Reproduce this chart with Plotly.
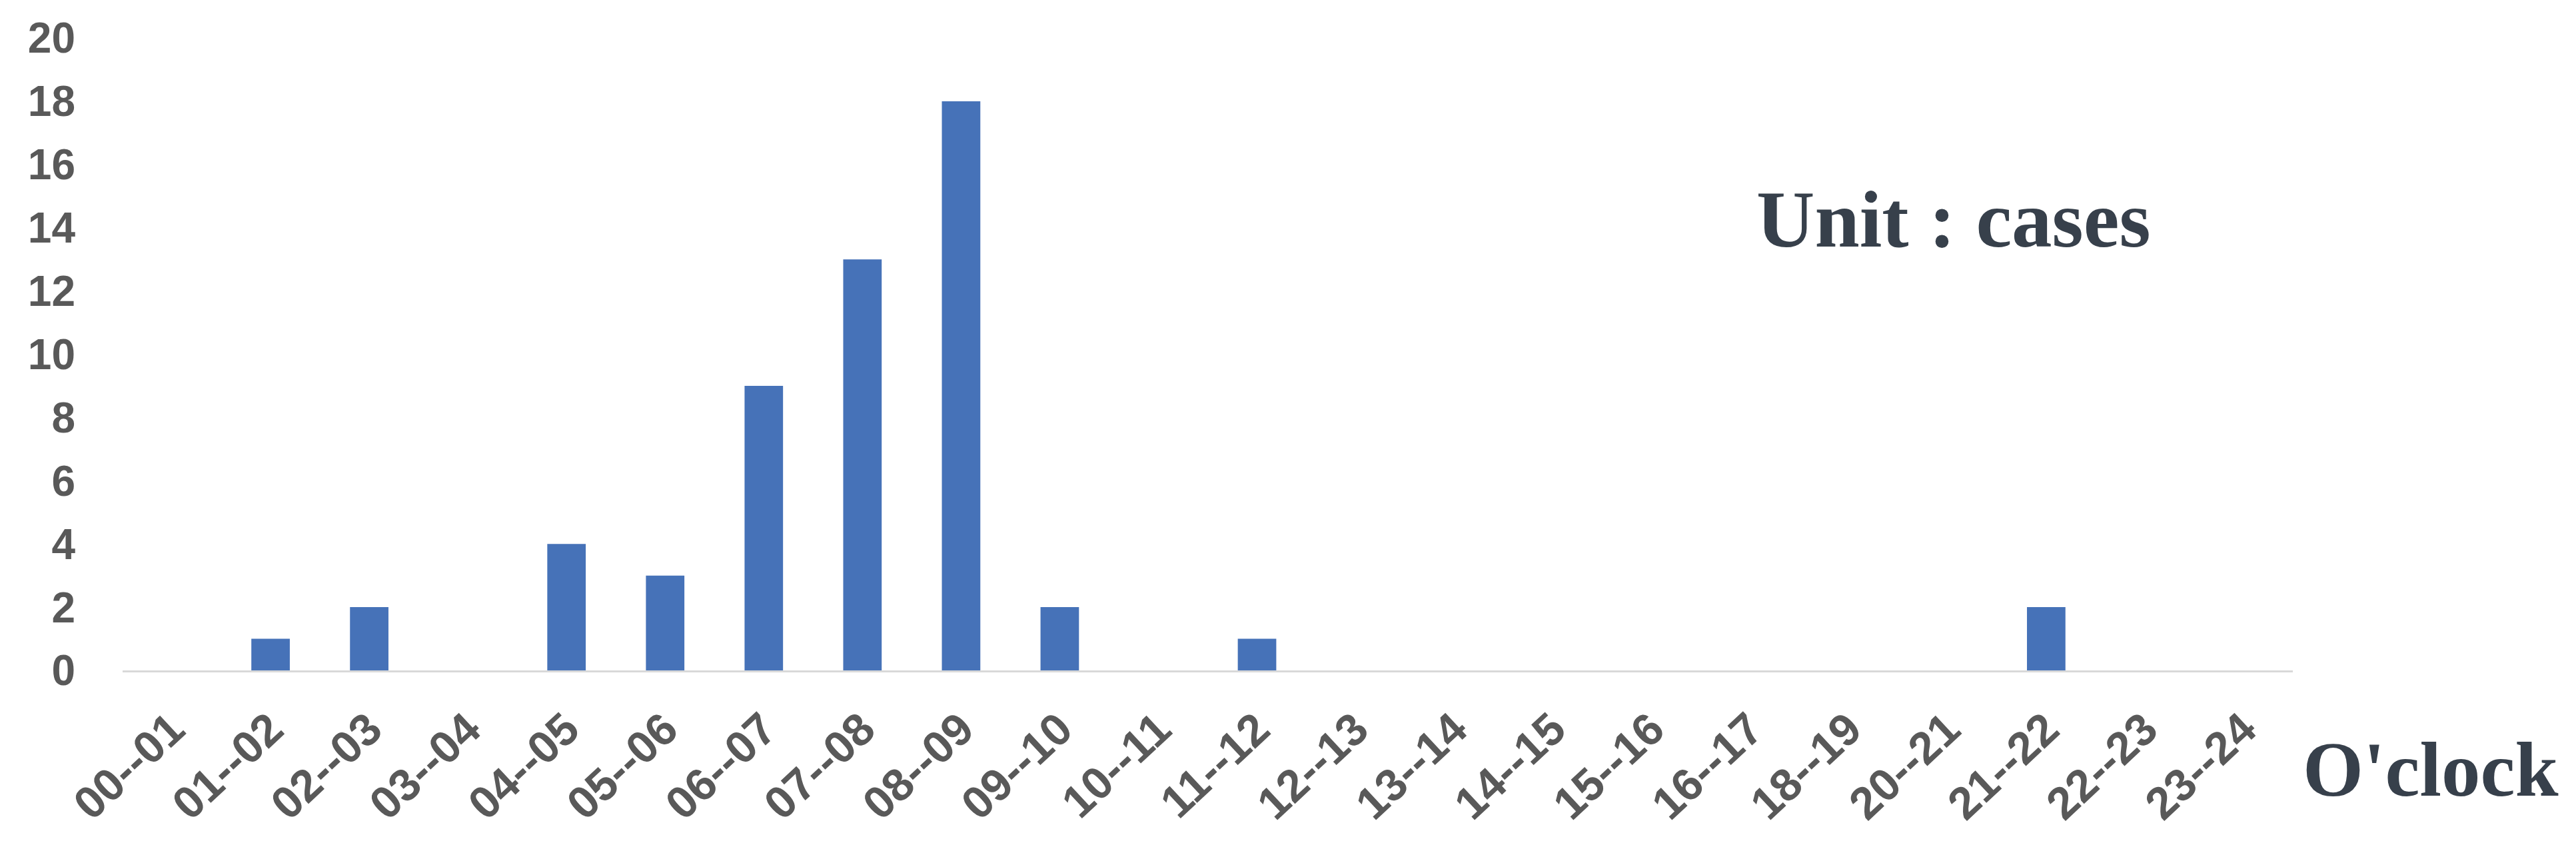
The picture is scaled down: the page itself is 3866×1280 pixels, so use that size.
import plotly.graph_objects as go

# hour slots (17--18 and 19--20 are not in the source chart)
hours = ["00--01", "01--02", "02--03", "03--04", "04--05", "05--06", "06--07",
         "07--08", "08--09", "09--10", "10--11", "11--12", "12--13", "13--14",
         "14--15", "15--16", "16--17", "18--19", "20--21", "21--22", "22--23",
         "23--24"]
cases = [0, 1, 2, 0, 4, 3, 9, 13, 18, 2, 0, 1, 0, 0, 0, 0, 0, 0, 0, 2, 0, 0]
y_ticks = list(range(0, 21, 2))

fig = go.Figure(go.Bar(
    x=hours,
    y=cases,
    marker_color="#4672B8",
    marker_line_width=0,
))

fig.update_layout(
    width=3866,
    height=1280,
    margin=dict(l=176, r=433, t=49, b=282),
    plot_bgcolor="white",
    paper_bgcolor="white",
    bargap=0.61,
    showlegend=False,
    xaxis=dict(
        type="category",
        automargin=False,
        tickangle=-43,
        tickfont=dict(family="Liberation Sans", size=68, color="#595959", weight="bold"),
        showline=True,
        linecolor="#D9D9D9",
        linewidth=3,
        showgrid=False,
        ticks="",
        ticklabelstandoff=18,
    ),
    yaxis=dict(
        range=[0, 20],
        automargin=False,
        tickvals=y_ticks,
        tickfont=dict(family="Liberation Sans", size=64, color="#595959", weight="bold"),
        showgrid=False,
        zeroline=False,
        showline=False,
        ticks="",
        ticklabelstandoff=70,
    ),
    annotations=[
        dict(text="<b>Unit : cases</b>", x=0.8435, y=0.713, xref="paper", yref="paper",
             showarrow=False, xanchor="center", yanchor="middle",
             font=dict(family="Liberation Serif", size=121, color="#37404B")),
        dict(text="<b>O'clock</b>", x=1.0635, y=-0.156, xref="paper", yref="paper",
             showarrow=False, xanchor="center", yanchor="middle",
             font=dict(family="Liberation Serif", size=117, color="#37404B")),
    ],
)

fig.write_html("out.html")
